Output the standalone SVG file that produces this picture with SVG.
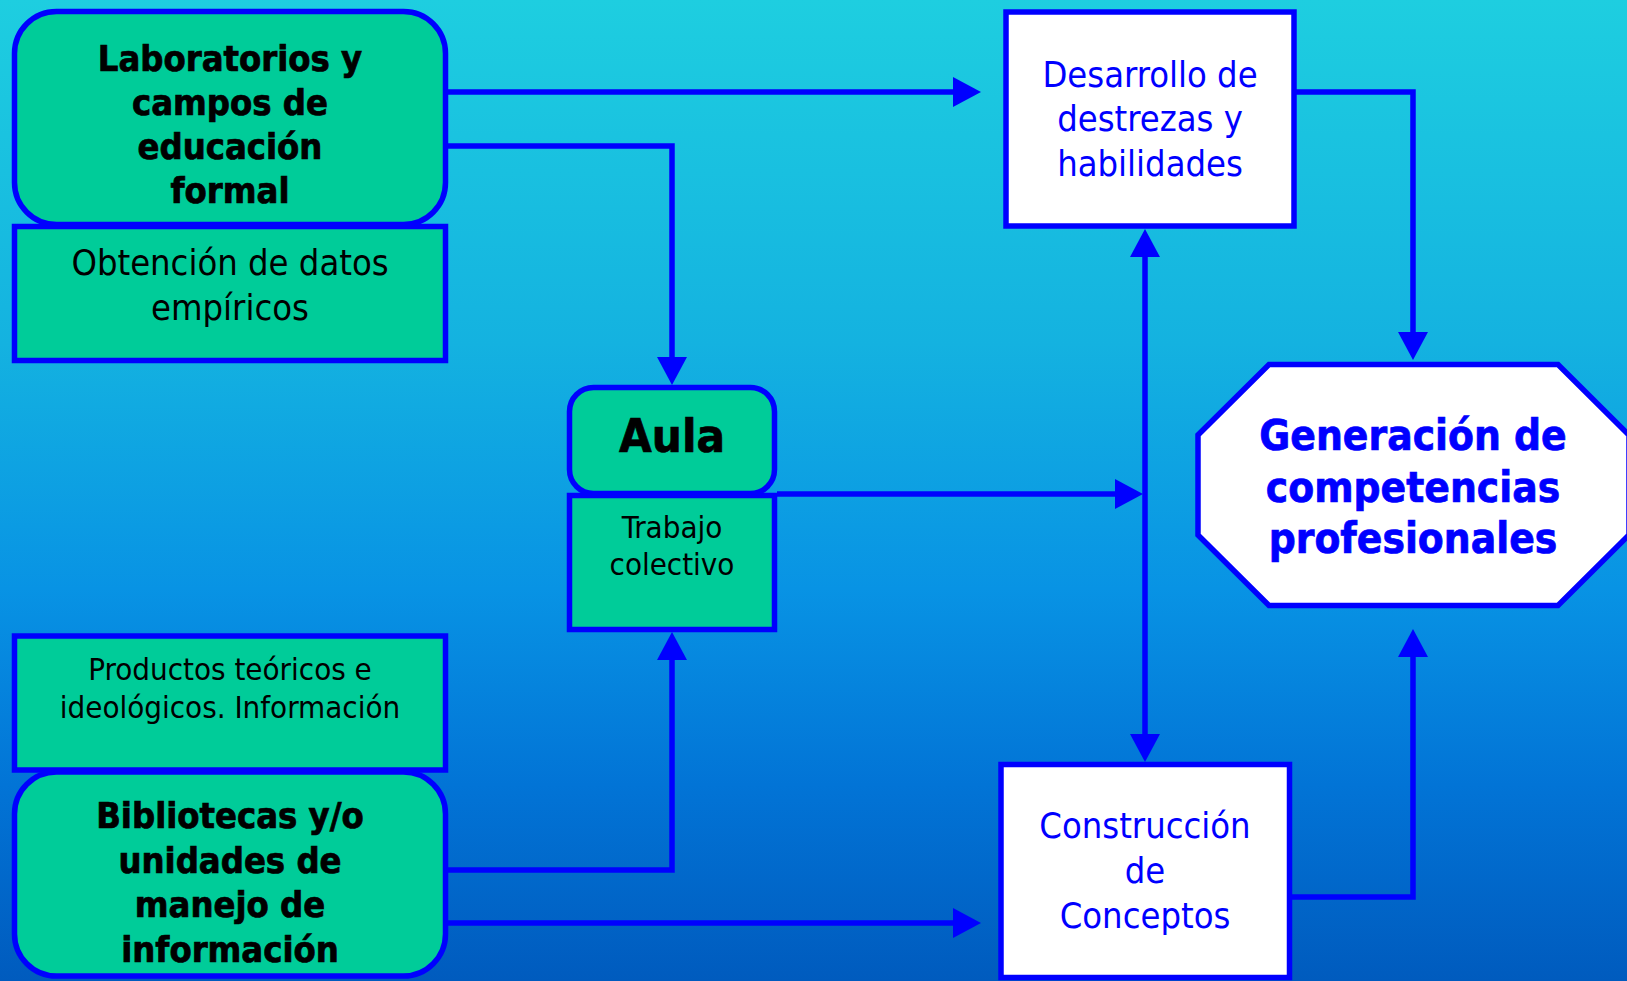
<svg xmlns="http://www.w3.org/2000/svg" width="1627" height="981" viewBox="0 0 1627 981">
  <defs>
    <linearGradient id="bg" x1="0" y1="0" x2="0" y2="1">
      <stop offset="0" stop-color="#1ECEE0"/>
      <stop offset="0.35" stop-color="#14B2E0"/>
      <stop offset="0.6" stop-color="#0893E4"/>
      <stop offset="0.8" stop-color="#0274D6"/>
      <stop offset="1" stop-color="#005BBE"/>
    </linearGradient>
    <marker id="arr" markerUnits="userSpaceOnUse" markerWidth="30" markerHeight="30" refX="8" refY="15" orient="auto-start-reverse" viewBox="0 0 28 30">
      <path d="M0,0 L28,15 L0,30 z" fill="#0000FF"/>
    </marker>
    <style>
      .green { fill: #00CC99; stroke: #0000FF; stroke-width: 5.5; }
      .white { fill: #FFFFFF; stroke: #0000FF; stroke-width: 5.5; }
      .conn { fill: none; stroke: #0000FF; stroke-width: 5.5; stroke-linejoin: miter; }
      text { font-family: 'DejaVu Sans Condensed', 'DejaVu Sans', sans-serif; font-stretch: condensed; text-anchor: middle; }
      .bk { fill: #000000; }
      .bl { fill: #0000FF; }
      .b { font-weight: bold; stroke-width: 0.7; }
      .bk.b { stroke: #000000; }
      .bl.b { stroke: #0000FF; }
    </style>
  </defs>
  <rect x="0" y="0" width="1627" height="981" fill="url(#bg)"/>

  <g id="connectors">
    <path class="conn" d="M446,92 L961,92" marker-end="url(#arr)"/>
    <path class="conn" d="M446,146 L672,146 L672,365" marker-end="url(#arr)"/>
    <path class="conn" d="M446,870 L672,870 L672,652" marker-end="url(#arr)"/>
    <path class="conn" d="M446,923 L961,923" marker-end="url(#arr)"/>
    <path class="conn" d="M777,494 L1123,494" marker-end="url(#arr)"/>
    <path class="conn" d="M1145,249 L1145,742" marker-start="url(#arr)" marker-end="url(#arr)"/>
    <path class="conn" d="M1290,92 L1413,92 L1413,340" marker-end="url(#arr)"/>
    <path class="conn" d="M1289,897 L1413,897 L1413,649" marker-end="url(#arr)"/>
  </g>

  <g id="laboratorios">
    <rect class="green" x="14.5" y="11.5" width="431" height="213" rx="42" ry="42"/>
    <text class="bk b" font-size="36"><tspan x="230" y="71">Laboratorios y</tspan><tspan x="230" y="115">campos de</tspan><tspan x="230" y="159">educación</tspan><tspan x="230" y="203">formal</tspan></text>
  </g>
  <g id="obtencion">
    <rect class="green" x="14.5" y="226.5" width="431" height="134"/>
    <text class="bk" font-size="36"><tspan x="230" y="275">Obtención de datos</tspan><tspan x="230" y="320">empíricos</tspan></text>
  </g>

  <g id="aula">
    <rect class="green" x="569.5" y="387.5" width="205" height="106" rx="24" ry="24"/>
    <text class="bk b" font-size="47" x="672" y="452">Aula</text>
  </g>
  <g id="trabajo">
    <rect class="green" x="569.5" y="495.5" width="205" height="134"/>
    <text class="bk" font-size="31"><tspan x="672" y="538">Trabajo</tspan><tspan x="672" y="575">colectivo</tspan></text>
  </g>

  <g id="bibliotecas">
    <rect class="green" x="14.5" y="772" width="431" height="204" rx="42" ry="42"/>
    <text class="bk b" font-size="36"><tspan x="230" y="828">Bibliotecas y/o</tspan><tspan x="230" y="873">unidades de</tspan><tspan x="230" y="917">manejo de</tspan><tspan x="230" y="962">información</tspan></text>
  </g>
  <g id="productos">
    <rect class="green" x="14.5" y="636" width="431" height="134"/>
    <text class="bk" font-size="31"><tspan x="230" y="680">Productos teóricos e</tspan><tspan x="230" y="718">ideológicos. Información</tspan></text>
  </g>

  <g id="desarrollo">
    <rect class="white" x="1006" y="12" width="288" height="214"/>
    <text class="bl" font-size="36"><tspan x="1150" y="87">Desarrollo de</tspan><tspan x="1150" y="131">destrezas y</tspan><tspan x="1150" y="176">habilidades</tspan></text>
  </g>

  <g id="construccion">
    <rect class="white" x="1001" y="764.5" width="288.5" height="213"/>
    <text class="bl" font-size="36"><tspan x="1145" y="838">Construcción</tspan><tspan x="1145" y="883">de</tspan><tspan x="1145" y="928">Conceptos</tspan></text>
  </g>

  <g id="generacion">
    <polygon class="white" points="1269,364.5 1558,364.5 1629,435 1629,535 1558,605.5 1269,605.5 1198,535 1198,435"/>
    <text class="bl b" font-size="42"><tspan x="1413" y="450">Generación de</tspan><tspan x="1413" y="502">competencias</tspan><tspan x="1413" y="553">profesionales</tspan></text>
  </g>
</svg>
